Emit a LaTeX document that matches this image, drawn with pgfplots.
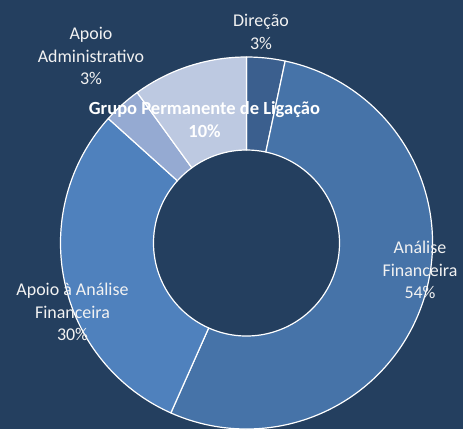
\documentclass[border=0pt]{standalone}
\usepackage{pgfplots}
\pgfplotsset{compat=1.18}
\usetikzlibrary{calc}
\usepackage{fontspec}
\setmainfont{Carlito}

\definecolor{bgnavy}{HTML}{243F5F}
\definecolor{cDir}{HTML}{3B5F8E}
\definecolor{cAF}{HTML}{4673A8}
\definecolor{cAAF}{HTML}{4F81BD}
\definecolor{cAdm}{HTML}{95AAD2}
\definecolor{cGPL}{HTML}{BDC9E1}
\definecolor{lbl}{HTML}{F2F2F2}

\tikzset{lab/.style={font=\fontsize{18}{22.5}\selectfont, text=lbl, align=center, inner sep=0pt}}

% counts per unit (total 30), drawn clockwise from 12 o'clock
\def\total{30}
% #1 = cumulative count before slice, #2 = count, #3 = colour
\newcommand{\donutslice}[3]{%
  \fill[#3, draw=white, line width=1.2pt, line join=round]
    ($(axis cs:246.5,186)+({90-360/\total*(#1)}:186bp)$)
    arc[start angle={90-360/\total*(#1)}, delta angle={-360/\total*(#2)}, radius=186bp]
    -- ($(axis cs:246.5,186)+({90-360/\total*((#1)+(#2))}:93bp)$)
    arc[start angle={90-360/\total*((#1)+(#2))}, delta angle={360/\total*(#2)}, radius=93bp]
    -- cycle;}

\begin{document}
\begin{tikzpicture}
\begin{axis}[
    x=1bp, y=1bp,
    xmin=0, xmax=463, ymin=0, ymax=429,
    hide axis,
    clip=true,
]
\fill[bgnavy] (rel axis cs:0,0) rectangle (rel axis cs:1,1);

\donutslice{0}{1}{cDir}   % Direção
\donutslice{1}{16}{cAF}   % Análise Financeira
\donutslice{17}{9}{cAAF}  % Apoio à Análise Financeira
\donutslice{26}{1}{cAdm}  % Apoio Administrativo
\donutslice{27}{3}{cGPL}  % Grupo Permanente de Ligação

\node[lab] at (axis cs:261,397) {Direção\\3\%};
\node[lab, font=\fontsize{18.6}{23}\selectfont\bfseries, text=white] at (axis cs:204.5,309) {Grupo Permanente de Ligação\\10\%};
\node[lab] at (axis cs:91,373) {Apoio\\Administrativo\\3\%};
\node[lab] at (axis cs:420,159) {Análise\\Financeira\\54\%};
\node[lab] at (axis cs:72.5,117) {Apoio à Análise\\Financeira\\30\%};
\end{axis}
\end{tikzpicture}
\end{document}
